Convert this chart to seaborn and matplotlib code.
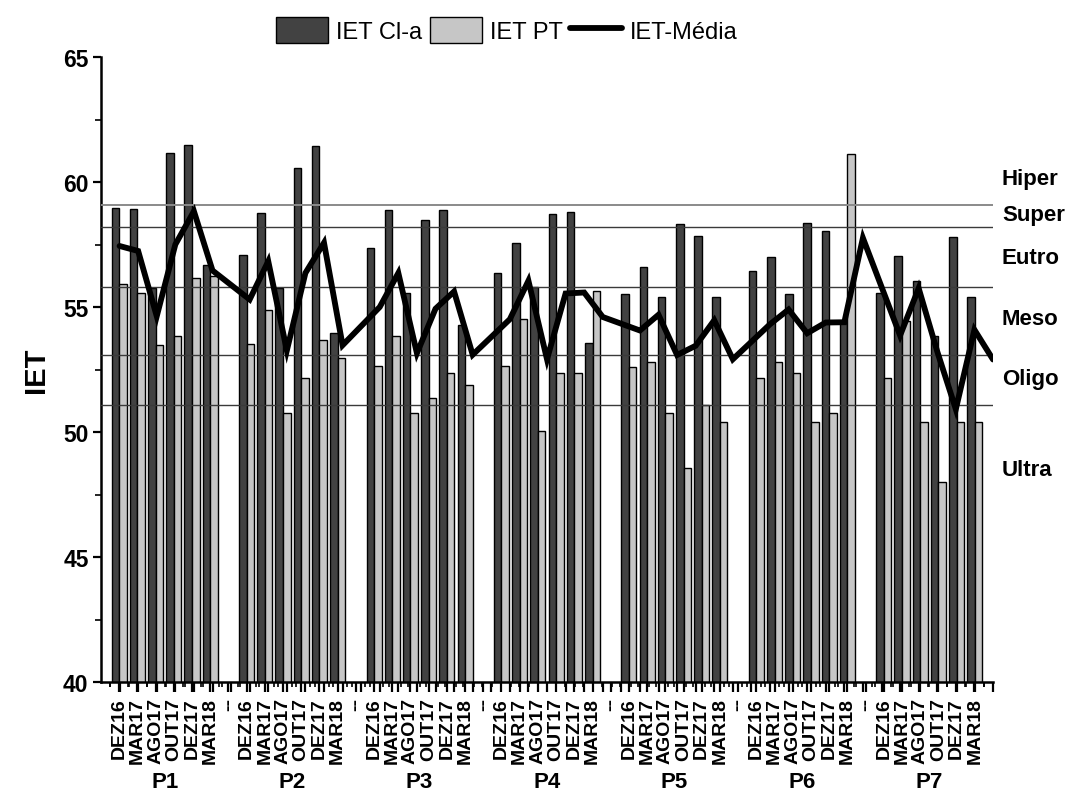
import matplotlib
matplotlib.use("Agg")
import matplotlib.pyplot as plt
import matplotlib.transforms as mtransforms
from matplotlib.patches import Patch
from matplotlib.lines import Line2D
from matplotlib.ticker import MultipleLocator, FixedLocator
import numpy as np
import pandas as pd
import seaborn as sns

# ---- data -------------------------------------------------------------
points = ["P1", "P2", "P3", "P4", "P5", "P6", "P7"]
months = ["DEZ16", "MAR17", "AGO17", "OUT17", "DEZ17", "MAR18"]

iet_cla = {
    "P1": [58.96, 58.93, 55.76, 61.16, 61.48, 56.67],
    "P2": [57.07, 58.76, 55.76, 60.57, 61.45, 53.96],
    "P3": [57.35, 58.88, 55.55, 58.48, 58.88, 54.29],
    "P4": [56.36, 57.57, 55.79, 58.72, 58.79, 53.56],
    "P5": [55.53, 56.59, 55.41, 58.32, 57.85, 55.41],
    "P6": [56.45, 57.01, 55.53, 58.36, 58.03, 54.40],
    "P7": [55.55, 57.05, 56.05, 53.83, 57.79, 55.41],
}
iet_pt = {
    "P1": [55.91, 55.55, 53.49, 53.83, 56.17, 56.25],
    "P2": [53.52, 54.89, 50.75, 52.15, 53.68, 52.97],
    "P3": [52.65, 53.83, 50.75, 51.37, 52.36, 51.89],
    "P4": [52.65, 54.52, 50.03, 52.36, 52.36, 55.63],
    "P5": [52.59, 52.79, 50.75, 48.58, 51.08, 50.40],
    "P6": [52.16, 52.79, 52.36, 50.39, 50.75, 61.12],
    "P7": [52.16, 54.45, 50.39, 47.99, 50.39, 50.39],
}
iet_media = {
    "P1": [57.44, 57.24, 54.63, 57.50, 58.83, 56.46],
    "P2": [55.30, 56.83, 53.26, 56.36, 57.57, 53.47],
    "P3": [55.00, 56.36, 53.15, 54.93, 55.62, 53.09],
    "P4": [54.51, 56.05, 52.91, 55.54, 55.58, 54.60],
    "P5": [54.06, 54.69, 53.08, 53.45, 54.47, 52.91],
    "P6": [54.31, 54.90, 53.95, 54.38, 54.39, 57.76],
    "P7": [53.86, 55.75, 53.22, 50.91, 54.09, 52.90],
}

# trophic class boundaries and class names
class_limits = [51.1, 53.1, 55.8, 58.2, 59.1]
class_names = ["Hiper", "Super", "Eutro", "Meso", "Oligo", "Ultra"]
class_label_y = [60.15, 58.68, 57.0, 54.55, 52.15, 48.5]

# ---- category order: six campaigns per point, a blank slot between points
order, tick_text = [], []
for g, p in enumerate(points):
    for m in months:
        order.append(f"{p}|{m}")
        tick_text.append(m)
    if g < len(points) - 1:
        order.append(f"gap{g}")
        tick_text.append("--")

rows = []
for p in points:
    for i, m in enumerate(months):
        rows.append({"cat": f"{p}|{m}", "serie": "IET Cl-a", "IET": iet_cla[p][i]})
        rows.append({"cat": f"{p}|{m}", "serie": "IET PT", "IET": iet_pt[p][i]})
bars = pd.DataFrame(rows)

line_rows = []
for p in points:
    for i, m in enumerate(months):
        line_rows.append({"pos": order.index(f"{p}|{m}"), "IET": iet_media[p][i]})
line_df = pd.DataFrame(line_rows)

# ---- style ------------------------------------------------------------
sns.set_style("ticks")
plt.rcParams["font.family"] = ["Liberation Sans", "DejaVu Sans"]
for key in ["text.color", "axes.labelcolor", "xtick.color", "ytick.color",
            "axes.edgecolor"]:
    plt.rcParams[key] = "black"
dark = "#424242"
light = "#c6c6c6"

fig = plt.figure(figsize=(10.73, 8.04), dpi=100)
ax = fig.add_axes([101 / 1073, 1 - 683 / 804, 892 / 1073, 625 / 804])

sns.barplot(data=bars, x="cat", y="IET", hue="serie", order=order,
            hue_order=["IET Cl-a", "IET PT"], palette=[dark, light],
            width=0.83, gap=0, edgecolor="black", linewidth=1.0,
            errorbar=None, legend=False, ax=ax, zorder=2)

for v in class_limits:
    top = v == max(class_limits)
    ax.axhline(v, color="#8a8a8a" if top else "#3a3a3a",
               lw=1.4 if top else 1.0, zorder=3)

ax.set_xlim(-1, 48)
ax.set_ylim(40, 65)
ax.yaxis.set_major_locator(MultipleLocator(5))
ax.yaxis.set_minor_locator(MultipleLocator(2.5))
ax.set_xticks(range(len(order)))
ax.set_xticklabels(tick_text, rotation=90, fontsize=14, fontweight="bold")
ax.xaxis.set_minor_locator(FixedLocator(np.arange(-0.5, len(order), 1.0)))
ax.tick_params(axis="x", which="major", length=7, width=1.6, pad=4, direction="out")
ax.tick_params(axis="x", which="minor", length=3.5, width=1.2, direction="out")
ax.tick_params(axis="y", which="major", length=6, width=1.6, pad=3,
               labelsize=16.5, direction="out")
ax.tick_params(axis="y", which="minor", length=4, width=1.2, direction="out")
for lab in ax.get_yticklabels():
    lab.set_fontweight("bold")
ax.set_xlabel("")
ax.set_ylabel("IET", fontsize=21, fontweight="bold", labelpad=9)
for s in ["top", "right"]:
    ax.spines[s].set_visible(False)
for s in ["left", "bottom"]:
    ax.spines[s].set_linewidth(1.8)

# mean index line on its own layer
ax2 = ax.twiny()
sns.lineplot(data=line_df, x="pos", y="IET", color="black", lw=4.2,
             sort=False, ax=ax2, zorder=4)
for ln in ax2.get_lines():
    ln.set_solid_joinstyle("miter")
ax2.set_xlim(-1, 47)
ax2.set_ylim(40, 65)
ax2.set_xlabel("")
ax2.set_ylabel("")
ax2.xaxis.set_ticks_position("bottom")
ax2.set_xticks(range(48))
ax2.xaxis.set_minor_locator(FixedLocator(np.arange(-0.5, 47, 1.0)))
ax2.tick_params(axis="x", which="major", length=7, width=1.6, direction="out",
                bottom=True, top=False, labelbottom=False, labeltop=False)
ax2.tick_params(axis="x", which="minor", length=3.5, width=1.2, direction="out",
                bottom=True, top=False)
for s in ax2.spines.values():
    s.set_visible(False)

# point names under each block of campaigns
tr_x = mtransforms.blended_transform_factory(ax.transData, fig.transFigure)
for g, p in enumerate(points):
    ax.text(7 * g + 2.5, 1 - 783 / 804, p, transform=tr_x, ha="center",
            va="center", fontsize=16, fontweight="bold")

# trophic class names on the right
tr_y = mtransforms.blended_transform_factory(ax.transAxes, ax.transData)
for name, yv in zip(class_names, class_label_y):
    ax.text(1.010, yv, name, transform=tr_y, ha="left", va="center",
            fontsize=16, fontweight="bold")

handles = [Patch(facecolor=dark, edgecolor="black", lw=1.0, label="IET Cl-a"),
           Patch(facecolor=light, edgecolor="black", lw=1.0, label="IET PT"),
           Line2D([0], [0], color="black", lw=4.2, label="IET-Média")]
fig.legend(handles=handles, loc="center", bbox_to_anchor=(507 / 1073, 1 - 31 / 804),
           ncol=3, frameon=False, fontsize=17, handlelength=2.2,
           handleheight=1.3, handletextpad=0.35, columnspacing=0.3)

fig.savefig("out.png", dpi=100)
